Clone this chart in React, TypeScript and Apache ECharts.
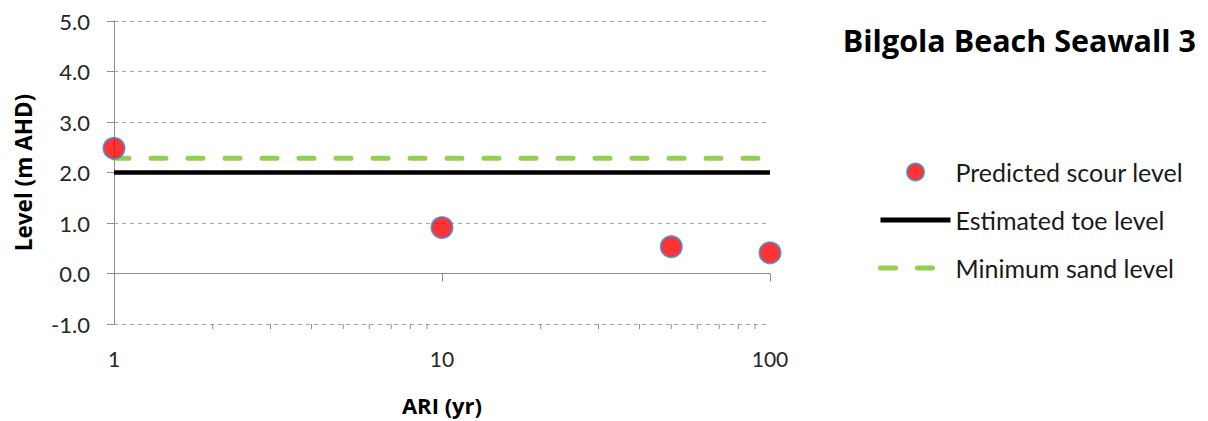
import React, { useEffect, useRef } from "react";
import * as echarts from "echarts";

const ariYears = [1, 10, 50, 100];
const predictedScour = [2.48, 0.91, 0.53, 0.41];
const toeLevel = [[1, 2.0], [100, 2.0]];
const minSandLevel = [[1, 2.28], [100, 2.28]];
const minorTickValues = [2, 3, 4, 5, 6, 7, 8, 9, 20, 30, 40, 50, 60, 70, 80, 90];
const yMin = -1;
const yMax = 5;

const FONT = "Lato, 'Open Sans', sans-serif";
const BOLD_FONT = "'Open Sans', Lato, sans-serif";

export default function App() {
  const ref = useRef<HTMLDivElement>(null);
  useEffect(() => {
    if (!ref.current) return;
    const chart = echarts.init(ref.current, null, { renderer: "svg" });
    chart.setOption({
      animation: false,
      backgroundColor: "#ffffff",
      title: {
        text: "Bilgola Beach Seawall 3",
        right: 7,
        top: 19,
        textStyle: { fontFamily: BOLD_FONT, fontSize: 30.5, fontWeight: "bold", color: "#000" },
      },
      legend: {
        orient: "vertical",
        left: 878,
        top: 158,
        padding: 0,
        itemWidth: 70,
        itemHeight: 17,
        itemGap: 20,
        itemTextGap: 7,
        data: [
          { name: "Predicted scour level" },
          { name: "Estimated toe level", itemStyle: { opacity: 0 }, lineStyle: { width: 5, color: "#000000" } },
          {
            name: "Minimum sand level",
            itemStyle: { opacity: 0 },
            lineStyle: { width: 5, color: "#92D050", type: [15, 22], cap: "round" },
          },
        ],
        textStyle: { fontFamily: FONT, fontSize: 25, color: "#1a1a1a", lineHeight: 28 },
      },
      grid: { left: 114, right: 438, top: 21, bottom: 89, containLabel: false },
      xAxis: {
        type: "log",
        logBase: 10,
        min: 1,
        max: 100,
        name: "ARI (yr)",
        nameLocation: "middle",
        nameGap: 70,
        nameTextStyle: { fontFamily: BOLD_FONT, fontSize: 22, fontWeight: "bold", color: "#000" },
        axisLine: { show: true, lineStyle: { color: "#8c8c8c", width: 1 } },
        axisTick: { show: true, length: 8, lineStyle: { color: "#8c8c8c" } },
        minorTick: { show: false },
        splitLine: { show: false },
        axisLabel: { fontFamily: FONT, fontSize: 21, color: "#262626", margin: 24 },
      },
      yAxis: {
        type: "value",
        min: yMin,
        max: yMax,
        interval: 1,
        name: "Level (m AHD)",
        nameLocation: "middle",
        nameGap: 79,
        nameTextStyle: { fontFamily: BOLD_FONT, fontSize: 22.5, fontWeight: "bold", color: "#000" },
        axisLine: { show: true, lineStyle: { color: "#8c8c8c", width: 1 } },
        axisTick: { show: true, length: 7, lineStyle: { color: "#8c8c8c" } },
        splitLine: { show: true, lineStyle: { color: "#a6a6a6", type: [4, 4], width: 1 } },
        axisLabel: {
          fontFamily: FONT,
          fontSize: 22,
          color: "#262626",
          margin: 24,
          formatter: (v: number) => v.toFixed(1),
        },
      },
      series: [
        {
          name: "Minor ticks",
          type: "custom",
          silent: true,
          clip: false,
          data: minorTickValues.map((v) => [v, yMin]),
          renderItem: (params: any, api: any) => {
            const p = api.coord([api.value(0), yMin]);
            return {
              type: "line",
              shape: { x1: p[0], y1: p[1], x2: p[0], y2: p[1] + 5 },
              style: { stroke: "#8c8c8c", lineWidth: 1 },
            };
          },
        },
        {
          name: "Estimated toe level",
          type: "line",
          data: toeLevel,
          symbol: "none",
          lineStyle: { color: "#000000", width: 4.5 },
          itemStyle: { color: "#000000" },
          z: 3,
        },
        {
          name: "Minimum sand level",
          type: "line",
          data: minSandLevel,
          symbol: "none",
          lineStyle: { color: "#92D050", width: 5, type: [15, 22], cap: "round" },
          itemStyle: { color: "#92D050" },
          z: 3,
        },
        {
          name: "Predicted scour level",
          type: "scatter",
          data: ariYears.map((x, i) => [x, predictedScour[i]]),
          symbol: "circle",
          symbolSize: 21,
          clip: false,
          itemStyle: { color: "#FF0000", borderColor: "#4F81BD", borderWidth: 2 },
          z: 5,
        },
      ],
    });
    return () => chart.dispose();
  }, []);
  return (
    <div
      ref={ref}
      style={{ position: "fixed", left: 0, top: 0, width: 1208, height: 421 }}
    />
  );
}
